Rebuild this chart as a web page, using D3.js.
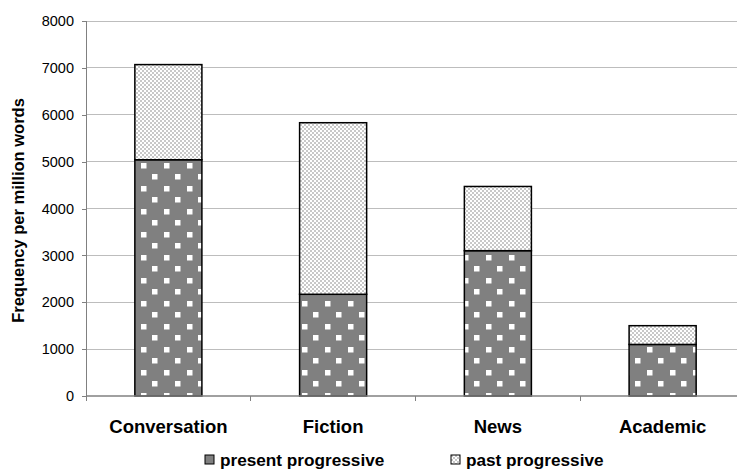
<!DOCTYPE html>
<html><head><meta charset="utf-8">
<script src="https://cdn.jsdelivr.net/npm/d3@7/dist/d3.min.js"></script>
<style>body{margin:0;background:#fff;}svg{display:block;font-family:"Liberation Sans",Arial,sans-serif;}</style>
</head><body>
<script>
const categories = ["Conversation", "Fiction", "News", "Academic"];
const presentProgressive = [5040, 2170, 3100, 1100];
const pastProgressive = [2030, 3660, 1370, 400];
const yTicks = [0, 1000, 2000, 3000, 4000, 5000, 6000, 7000, 8000];
const seriesNames = ["present progressive", "past progressive"];

const W = 737, H = 472;
const mLeft = 86, mRight = 745, mTop = 21, mBottom = 396;
const svg = d3.select("body").append("svg").attr("width", W).attr("height", H);
const defs = svg.append("defs");

// dotted dark pattern
const pDots = defs.append("pattern").attr("id", "dots").attr("patternUnits", "userSpaceOnUse")
  .attr("width", 23).attr("height", 23).attr("x", 0).attr("y", 0);
pDots.append("rect").attr("width", 23).attr("height", 23).attr("fill", "#808080");
pDots.append("rect").attr("x", 3).attr("y", 2).attr("width", 5.5).attr("height", 5.5).attr("fill", "#fff");
pDots.append("rect").attr("x", 14).attr("y", 13).attr("width", 5.5).attr("height", 5.5).attr("fill", "#fff");

// checker pattern
const pCheck = defs.append("pattern").attr("id", "check").attr("patternUnits", "userSpaceOnUse")
  .attr("width", 4).attr("height", 4);
pCheck.append("rect").attr("width", 4).attr("height", 4).attr("fill", "#fff");
pCheck.append("rect").attr("width", 2).attr("height", 2).attr("fill", "#c8c8c8");
pCheck.append("rect").attr("x", 2).attr("y", 2).attr("width", 2).attr("height", 2).attr("fill", "#c8c8c8");

const x = d3.scaleBand().domain(categories).range([mLeft, mRight]).paddingInner(0.593).paddingOuter(0.2965);
const y = d3.scaleLinear().domain([0, 8000]).range([mBottom, mTop]);

// gridlines
svg.append("g").selectAll("line").data(yTicks.filter(d => d > 0)).join("line")
  .attr("x1", mLeft).attr("x2", mRight).attr("y1", d => y(d)).attr("y2", d => y(d))
  .attr("stroke", "#bdbdbd").attr("stroke-width", 1).attr("shape-rendering", "crispEdges");

// y axis
const yAxis = svg.append("g").attr("transform", `translate(${mLeft},0)`)
  .call(d3.axisLeft(y).tickValues(yTicks).tickSize(4).tickPadding(8).tickFormat(d3.format("d")));
yAxis.select(".domain").attr("stroke", "#808080").attr("shape-rendering", "crispEdges");
yAxis.selectAll(".tick line").attr("stroke", "#808080").attr("shape-rendering", "crispEdges");
yAxis.selectAll("text").attr("font-size", 14.5).attr("fill", "#000").attr("font-family", "Liberation Sans, Arial, sans-serif");

// bars
const stackData = categories.map((c, i) => ({cat: c, present: presentProgressive[i], past: pastProgressive[i]}));
const stacked = d3.stack().keys(["present", "past"])(stackData);
const fills = ["url(#dots)", "url(#check)"];
stacked.forEach((layer, li) => {
  svg.append("g").selectAll("rect").data(layer).join("rect")
    .attr("x", d => x(d.data.cat)).attr("width", x.bandwidth())
    .attr("y", d => y(d[1])).attr("height", d => y(d[0]) - y(d[1]))
    .attr("fill", fills[li]).attr("stroke", "#000").attr("stroke-width", 1.5);
});

// x axis baseline + boundary ticks
svg.append("line").attr("x1", mLeft).attr("x2", mRight).attr("y1", mBottom).attr("y2", mBottom)
  .attr("stroke", "#808080").attr("stroke-width", 1.5);
const step = x.step();
svg.append("g").selectAll("line").data(d3.range(0, categories.length + 1)).join("line")
  .attr("x1", i => mLeft + step * i).attr("x2", i => mLeft + step * i)
  .attr("y1", mBottom).attr("y2", mBottom + 5).attr("stroke", "#808080").attr("shape-rendering", "crispEdges");

svg.append("g").selectAll("text").data(categories).join("text")
  .attr("x", d => x(d) + x.bandwidth() / 2).attr("y", 433)
  .attr("text-anchor", "middle").attr("font-size", 18.5).attr("font-weight", "bold").text(d => d);

// y title
svg.append("text").attr("transform", `translate(24,${(mTop + mBottom) / 2 + 2}) rotate(-90)`)
  .attr("text-anchor", "middle").attr("font-size", 16.5).attr("font-weight", "bold")
  .text("Frequency per million words");

// legend
const legendX = [205, 451];
const lg = svg.append("g").selectAll("g").data(seriesNames).join("g")
  .attr("transform", (d, i) => `translate(${legendX[i]},455)`);
lg.append("rect").attr("width", 9).attr("height", 9).attr("fill", (d, i) => i === 0 ? "#808080" : "url(#check)")
  .attr("stroke", "#000").attr("stroke-width", 1);
lg.append("text").attr("x", 15).attr("y", 10.5).attr("font-size", 17.2).attr("font-weight", "bold").text(d => d);
</script>
</body></html>
